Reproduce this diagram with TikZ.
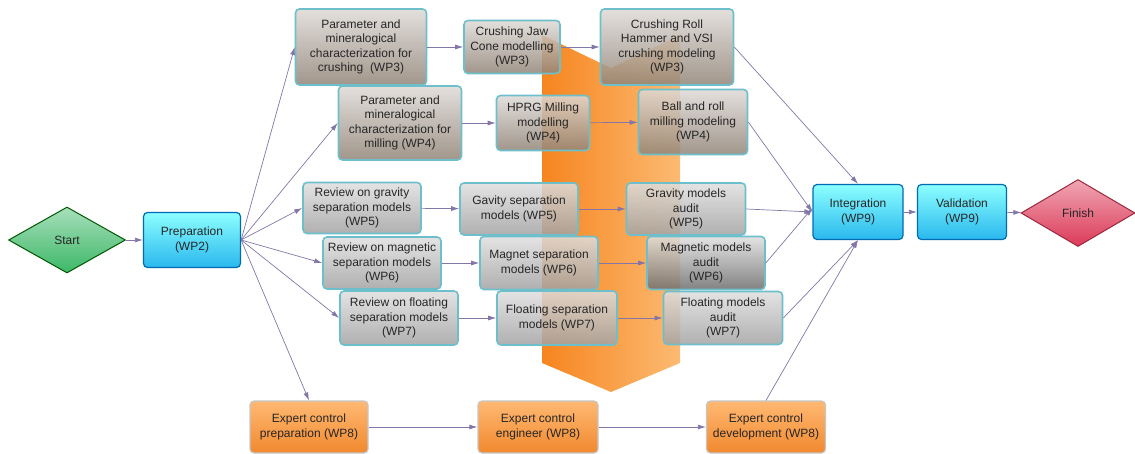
\documentclass[tikz,border=0pt]{standalone}
\usepackage{fontspec}
\setmainfont{Liberation Sans}
\usepackage{tikz}
\usetikzlibrary{arrows.meta,shapes.geometric}
\usepackage{xcolor}
\definecolor{flowline}{HTML}{8576A8}
\definecolor{boxrim}{HTML}{6DBFCB}
\definecolor{txtgray}{HTML}{262626}

\begin{document}
\begin{tikzpicture}[x=1pt, y=-1pt,
    every node/.style={font=\fontsize{12}{14.5}\selectfont, text=txtgray, align=center, inner sep=1pt},
    flow/.style={draw=flowline, line width=0.7pt, -{Latex[length=8pt,width=5pt]}},
    wpbox/.style={draw=boxrim, line width=1.6pt, rounded corners=4pt, fill opacity=0.85, text opacity=1},
    beigebox/.style={wpbox, top color=white!70!beigegray, bottom color=beigegray},
    graybox/.style={wpbox, top color=white!65!midgray, bottom color=midgray},
    bluebox/.style={draw=blue!40!cyan!70!black, line width=1.2pt, rounded corners=4pt,
        top color=cyan!45, bottom color=skyblue},
    orangebox/.style={draw=gray!45, line width=1.2pt, rounded corners=4pt,
        top color=orange!55, bottom color=deeporange},
    endpoint/.style={diamond, aspect=1.75, inner sep=0pt, line width=1pt}]

    \colorlet{beigegray}{black!25!brown!30!gray!90}
    \definecolor{midgray}{HTML}{A2A2A2}
    \definecolor{skyblue}{HTML}{29B8EE}
    \definecolor{deeporange}{HTML}{F1892E}
    \definecolor{arrowdark}{HTML}{F6851F}
    \definecolor{arrowlight}{HTML}{FCBA72}
    \definecolor{startgreen}{HTML}{3DB868}
    \definecolor{finishred}{HTML}{DC3A58}

    \useasboundingbox (0,0) rectangle (1135,454);

    % Process arrow behind the model columns
    \shade[left color=arrowdark, right color=arrowlight]
        (542,35) -- (611,68) -- (680,35) -- (680,363) -- (611,392) -- (542,363) -- cycle;

    % Start / finish
    \node[endpoint, draw=green!35!black, top color=startgreen!45, bottom color=startgreen,
        minimum width=117pt, minimum height=66pt] (start) at (67,240) {Start};
    \node[endpoint, draw=finishred!70!black, top color=finishred!45, bottom color=finishred,
        minimum width=114pt, minimum height=67pt] (finish) at (1078,213) {Finish};

    % Preparation, integration, validation
    \node[bluebox, minimum width=97pt, minimum height=55pt] (prep) at (192,240) {Preparation\\(WP2)};
    \node[bluebox, minimum width=90pt, minimum height=55pt] (integ) at (858,212) {Integration\\(WP9)};
    \node[bluebox, minimum width=89pt, minimum height=55pt] (valid) at (962,212) {Validation\\(WP9)};

    % Crushing
    \node[beigebox, minimum width=131pt, minimum height=76pt] (paramC) at (361,47)
        {Parameter and\\mineralogical\\characterization for\\crushing\ \ (WP3)};
    \node[beigebox, minimum width=96pt, minimum height=53pt] (jaw) at (512,47)
        {Crushing Jaw\\Cone modelling\\(WP3)};
    \node[beigebox, minimum width=133pt, minimum height=76pt] (roll) at (667,47)
        {Crushing Roll\\Hammer and VSI\\crushing modeling\\(WP3)};

    % Milling
    \node[beigebox, minimum width=123pt, minimum height=74pt] (paramM) at (400,123)
        {Parameter and\\mineralogical\\characterization for\\milling (WP4)};
    \node[beigebox, minimum width=93pt, minimum height=55pt] (hprg) at (543,123)
        {HPRG Milling\\modelling\\(WP4)};
    \node[beigebox, minimum width=109pt, minimum height=65pt] (ball) at (693,122)
        {Ball and roll\\milling modeling\\(WP4)};

    % Separation
    \node[graybox, minimum width=118pt, minimum height=51pt] (revG) at (362,208)
        {Review on gravity\\separation models\\(WP5)};
    \node[graybox, minimum width=118pt, minimum height=52pt] (sepG) at (519,209)
        {Gavity separation\\models (WP5)};
    \node[graybox, minimum width=119pt, minimum height=52pt] (audG) at (686,209)
        {Gravity models\\audit\\(WP5)};
    \node[graybox, minimum width=118pt, minimum height=52pt] (revM) at (382,263)
        {Review on magnetic\\separation models\\(WP6)};
    \node[graybox, minimum width=118pt, minimum height=53pt] (sepM) at (539,263)
        {Magnet separation\\models (WP6)};
    \node[graybox, minimum width=118pt, minimum height=53pt, bottom color=gray!85!black] (audM) at (706,263)
        {Magnetic models\\audit\\(WP6)};
    \node[graybox, minimum width=118pt, minimum height=54pt] (revF) at (399,318)
        {Review on floating\\separation models\\(WP7)};
    \node[graybox, minimum width=120pt, minimum height=54pt] (sepF) at (557,318)
        {Floating separation\\models (WP7)};
    \node[graybox, minimum width=119pt, minimum height=53pt] (audF) at (723,318)
        {Floating models\\audit\\(WP7)};

    % Expert control
    \node[orangebox, minimum width=118pt, minimum height=52pt] (expP) at (309,427)
        {Expert control\\preparation (WP8)};
    \node[orangebox, minimum width=120pt, minimum height=52pt] (expE) at (538,427)
        {Expert control\\engineer (WP8)};
    \node[orangebox, minimum width=119pt, minimum height=52pt] (expD) at (766,427)
        {Expert control\\development (WP8)};

    % Links
    \draw[flow] (start) -- (prep);
    \foreach \n in {paramC,paramM,revG,revM,revF}
        \draw[flow] (prep.east) -- (\n.west);
    \draw[flow] (prep.east) -- (expP.north);

    \foreach \a/\b in {paramC/jaw,jaw/roll,paramM/hprg,hprg/ball,revG/sepG,sepG/audG,
                       revM/sepM,sepM/audM,revF/sepF,sepF/audF,expP/expE,expE/expD}
        \draw[flow] (\a) -- (\b);

    \draw[flow] (roll.east) -- (integ.north);
    \draw[flow] (ball.east) -- (integ.west);
    \draw[flow] (audG.east) -- (integ.west);
    \draw[flow] (audM.east) -- ([yshift=4pt]integ.west);
    \draw[flow] (audF.east) -- (integ.south);
    \draw[flow] (expD.north) -- (integ.south);

    \draw[flow] (integ) -- (valid);
    \draw[flow] (valid) -- (finish);
\end{tikzpicture}
\end{document}
